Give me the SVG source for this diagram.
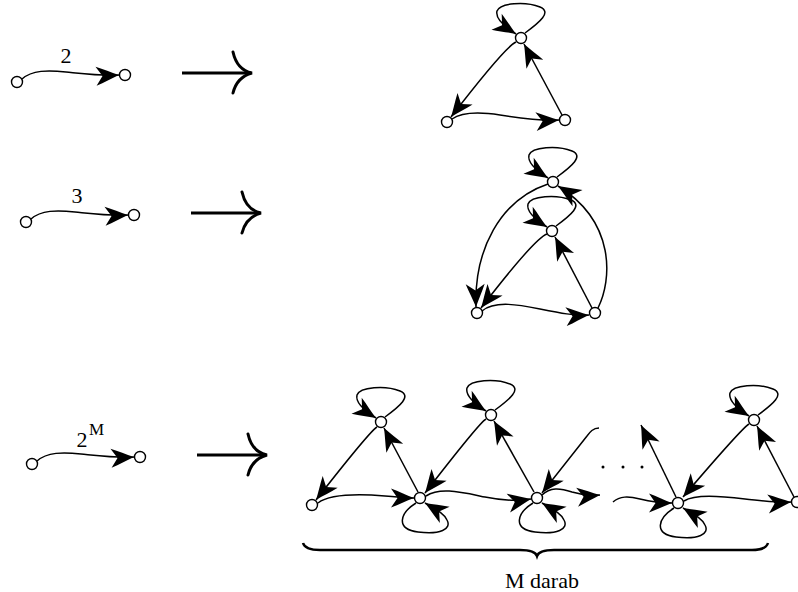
<svg xmlns="http://www.w3.org/2000/svg" width="798" height="592" viewBox="0 0 798 592">
<defs>
<marker id="ah" viewBox="-28 -14 32 28" markerWidth="32" markerHeight="28" refX="0" refY="0" orient="auto" markerUnits="userSpaceOnUse" overflow="visible">
<path d="M0,0 C-8,-3 -15,-6.5 -23,-9.5 L-16.5,0 L-23,9.5 C-15,6.5 -8,3 0,0 Z" fill="#000"/>
</marker>
<style>
.n{fill:#fff;stroke:#000;stroke-width:1.4}
.e{fill:none;stroke:#000;stroke-width:1.5;marker-end:url(#ah)}
.l{fill:none;stroke:#000;stroke-width:1.5}
.big{fill:none;stroke:#000;stroke-width:3}
.hk{fill:none;stroke:#000;stroke-width:3;stroke-linecap:round}
.t{font-family:"Liberation Serif","Times New Roman",serif;font-size:22px;fill:#000}
</style>
</defs>
<g id="connectors">
<!-- top-left -->
<path class="e" d="M22,79 C32,70 48,70 66,72 C86,74 102,76 119,75"/>
<path class="big" d="M182,73 L251,73"/>
<path class="hk" d="M233,52 Q237,70 252,73 Q237,77 233,93"/>
<!-- middle-left -->
<path class="e" d="M31,219 C41,210 57,210 75,212 C95,214 111,216 128,215"/>
<path class="big" d="M191,213 L260,213"/>
<path class="hk" d="M242,192 Q246,210 261,213 Q246,217 242,233"/>
<!-- bottom-left -->
<path class="e" d="M37,461 C47,452 63,452 81,454 C101,456 117,458 134,457"/>
<path class="big" d="M197,455 L266,455"/>
<path class="hk" d="M248,434 Q252,452 267,455 Q252,459 248,475"/>
<!-- top triangle -->
<path class="e" d="M525,33 C540,22 552,12 540,7 C525,1 500,3 497,11 C495,19 505,27 516,34"/>
<path class="e" d="M516,42 Q505,47 451,117"/>
<path class="e" d="M562,115 L524,44"/>
<path class="e" d="M452,119 C462,112 480,112 500,115 C525,119 545,121 559,120"/>
<!-- middle graph -->
<path class="e" d="M557,177 C572,166 584,156 572,151 C557,145 532,147 529,155 C527,163 537,171 548,178"/>
<path class="e" d="M556,226 C571,215 583,205 571,200 C556,194 531,196 528,204 C526,212 536,220 547,227"/>
<path class="e" d="M548,184 C500,200 474,250 476,307"/>
<path class="e" d="M547,234 Q535,238 481,308"/>
<path class="e" d="M592,308 L555,237"/>
<path class="e" d="M598,308 C612,280 616,222 558,186"/>
<path class="e" d="M482,311 C495,300 520,305 540,309 C560,313 575,316 589,315"/>
<!-- bottom row loops above -->
<path class="e" d="M385,417 C400,406 412,396 400,391 C385,385 360,387 357,395 C355,403 365,411 376,418"/>
<path class="e" d="M495,410 C510,399 522,389 510,384 C495,378 470,380 467,388 C465,396 475,404 486,411"/>
<path class="e" d="M758,415 C773,404 785,394 773,389 C758,383 733,385 730,393 C728,401 738,409 749,416"/>
<!-- bottom row loops below -->
<path class="e" d="M416,503 C400,513 395,529 418,532 C440,535 452,529 447,520 C444,513 435,509 425,503"/>
<path class="e" d="M533,503 C517,513 512,529 535,532 C557,535 569,529 564,520 C561,513 552,509 542,503"/>
<path class="e" d="M674,508 C658,518 653,534 676,537 C698,540 710,534 705,525 C702,518 693,514 683,508"/>
<!-- bottom row edges -->
<path class="e" d="M377,427 Q370,431 316,500"/>
<path class="e" d="M418,492 L384,428"/>
<path class="e" d="M318,503 C330,494 360,494 385,496 C400,497 408,498 414,498"/>
<path class="e" d="M486,419 Q480,422 425,493"/>
<path class="e" d="M534,492 L494,421"/>
<path class="e" d="M426,496 C440,487 460,492 485,497 C505,501 520,501 531,499"/>
<path class="e" d="M599,428 C593,428 590,432 587,436 L542,493"/>
<path class="e" d="M542,495 C550,487 560,488 572,492 C582,495 590,496 600,495"/>
<path class="e" d="M613,502 C620,496 628,496 640,499 C652,502 660,503 672,503"/>
<path class="e" d="M676,497 L641,425"/>
<path class="e" d="M749,424 Q742,428 683,497"/>
<path class="e" d="M794,497 L757,426"/>
<path class="e" d="M684,501 C695,494 720,496 745,499 C765,501 780,503 791,502"/>
<!-- brace -->
<path class="l" style="stroke-width:2.5" d="M303,543 Q305,550 320,550 L520,550 Q535,550 537,556 Q539,550 554,550 L752,550 Q766,550 768,543"/>
</g>
<g id="dots">
<circle cx="603" cy="467" r="1.5"/>
<circle cx="623" cy="467" r="1.5"/>
<circle cx="642" cy="467" r="1.5"/>
</g>
<g id="nodes-left">
<circle class="n" cx="17" cy="82" r="5.5"/>
<circle class="n" cx="125" cy="75" r="5.5"/>
<circle class="n" cx="26" cy="222" r="5.5"/>
<circle class="n" cx="134" cy="215" r="5.5"/>
<circle class="n" cx="32" cy="464" r="5.5"/>
<circle class="n" cx="140" cy="457" r="5.5"/>
</g>
<g id="nodes-top">
<circle class="n" cx="521" cy="38" r="5.5"/>
<circle class="n" cx="447" cy="122" r="5.5"/>
<circle class="n" cx="565" cy="120" r="5.5"/>
</g>
<g id="nodes-middle">
<circle class="n" cx="553" cy="182" r="5.5"/>
<circle class="n" cx="552" cy="231" r="5.5"/>
<circle class="n" cx="477" cy="313" r="5.5"/>
<circle class="n" cx="595" cy="313" r="5.5"/>
</g>
<g id="nodes-bottom">
<circle class="n" cx="381" cy="422" r="5.5"/>
<circle class="n" cx="312" cy="505" r="5.5"/>
<circle class="n" cx="420" cy="498" r="5.5"/>
<circle class="n" cx="491" cy="415" r="5.5"/>
<circle class="n" cx="537" cy="498" r="5.5"/>
<circle class="n" cx="678" cy="503" r="5.5"/>
<circle class="n" cx="754" cy="420" r="5.5"/>
<circle class="n" cx="797" cy="502" r="5.5"/>
</g>
<g id="labels" font-family="'Liberation Serif', 'Times New Roman', serif">
<text class="t" x="66" y="63" text-anchor="middle">2</text>
<text class="t" x="77" y="203" text-anchor="middle">3</text>
<text class="t" x="82" y="447" text-anchor="middle">2</text>
<text class="t" x="89" y="435" style="font-size:17px">M</text>
<text class="t" x="542" y="588" text-anchor="middle">M darab</text>
</g>
</svg>
